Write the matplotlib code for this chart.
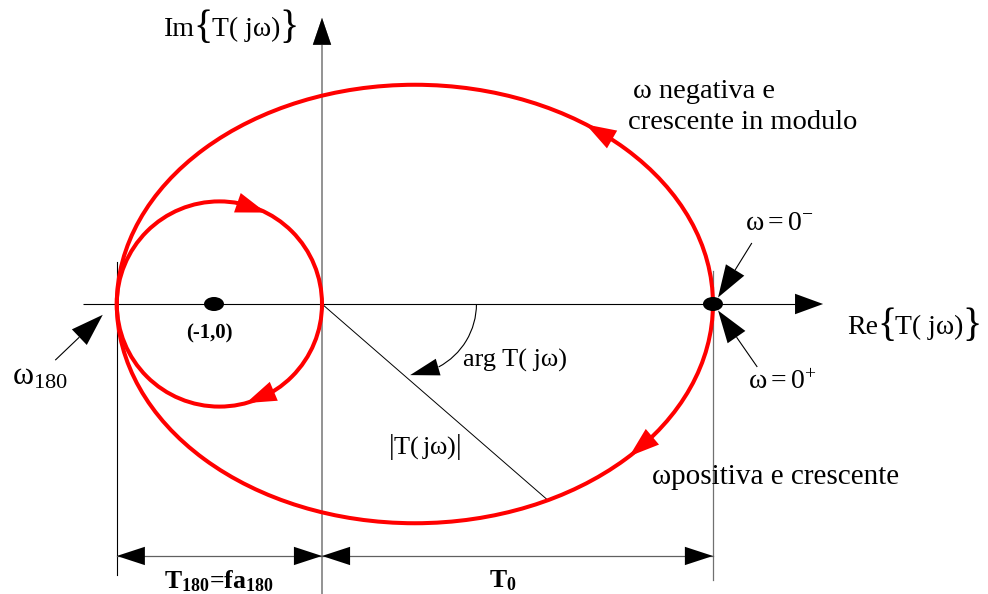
import numpy as np
import matplotlib
matplotlib.use('Agg')
import matplotlib.pyplot as plt
from matplotlib.patches import Ellipse, Circle, Polygon, Arc
from matplotlib.transforms import offset_copy

plt.rcParams['font.family'] = ['Liberation Serif', 'DejaVu Serif']
plt.rcParams['mathtext.fontset'] = 'custom'
plt.rcParams['mathtext.rm'] = 'Liberation Serif'
plt.rcParams['mathtext.it'] = 'Liberation Serif'
plt.rcParams['mathtext.bf'] = 'Liberation Serif:bold'

# Nyquist plot data (real/imag units)
T0 = 3.62          # crossing at w = 0
T180 = -1.90       # crossing at w180
crit = (-1.0, 0.0) # critical point
# small loop around -1 (circle through origin and T180)
loop_c = (T180 / 2, 0.0)
loop_r = -T180 / 2
# outer loop (ellipse from T180 to T0)
ell_c = ((T0 + T180) / 2, 0.0)
ell_a = (T0 - T180) / 2
ell_b = 2.03
# arrow tips on the curves: (angle of tip, angle of base) in degrees
loop_arrows = [(63, 79), (-75, -59)]
ell_arrows = [(55, 49), (-44, -38)]
# |T(jw)| vector drawn to this point of the outer loop
vec_t = -63.5

RED = '#ff0000'
U = 108.0  # pixels per unit


def head(ax, tip, frm, length, hw, color):
    tip = np.array(tip, float)
    d = tip - np.array(frm, float)
    d /= np.hypot(*d)
    n = np.array([-d[1], d[0]])
    base = tip - d * length
    ax.add_patch(Polygon([tip, base + n * hw, base - n * hw], closed=True,
                         fc=color, ec='none', zorder=5))
    return base


def arrow(ax, start, tip, length=0.28, hw=0.095, color='black', lw=0.8):
    base = head(ax, tip, start, length, hw, color)
    ax.plot([start[0], base[0]], [start[1], base[1]], color=color, lw=lw,
            solid_capstyle='butt')


def ell_pt(t):
    t = np.radians(t)
    return (ell_c[0] + ell_a * np.cos(t), ell_c[1] + ell_b * np.sin(t))


def loop_pt(t):
    t = np.radians(t)
    return (loop_c[0] + loop_r * np.cos(t), loop_c[1] + loop_r * np.sin(t))


def braced(ax, x, y, pre, body, fs=20, bfs=29):
    # "pre{body}" with tall braces, pieces laid out left to right
    r = fig.canvas.get_renderer()
    parts = [(pre, fs, 0), ('{', bfs, 1.5), (body, fs, 0), ('}', bfs, 1.5)]
    dx = 0.0
    for s, size, dy in parts:
        tr = offset_copy(ax.transData, fig=fig, x=dx, y=dy, units='dots')
        t = ax.text(x, y, s, fontsize=size, ha='left', va='center', transform=tr)
        dx += t.get_window_extent(r).width - 1


fig = plt.figure(figsize=(9.88, 5.94), dpi=100)
ax = fig.add_axes([0, 0, 1, 1])
ax.set_xlim(-322 / U, 666 / U)
ax.set_ylim(-290 / U, 304 / U)
ax.axis('off')

# axes
arrow(ax, (-2.21, 0), (4.64, 0), length=0.26, hw=0.095, lw=0.8)
arrow(ax, (0, -2.70), (0, 2.65), length=0.25, hw=0.085, color='#808080', lw=1.2)
head(ax, (0, 2.65), (0, 0), 0.25, 0.085, 'black')

# reference verticals at T180 and T0
ax.plot([T180, T180], [0.39, -2.51], color='black', lw=0.8)
ax.plot([T0, T0], [0.31, -2.56], color='#707070', lw=0.9)

# curves
ax.add_patch(Ellipse(ell_c, 2 * ell_a, 2 * ell_b, fill=False, ec=RED, lw=2.9, zorder=3))
ax.add_patch(Circle(loop_c, loop_r, fill=False, ec=RED, lw=2.9, zorder=3))
for tip, base in loop_arrows:
    head(ax, loop_pt(tip), loop_pt(base), 0.28, 0.095, RED)
for tip, base in ell_arrows:
    head(ax, ell_pt(tip), ell_pt(base), 0.28, 0.095, RED)

# points
ax.add_patch(Ellipse(crit, 0.185, 0.13, fc='black', ec='none', zorder=6))
ax.add_patch(Ellipse((T0, 0), 0.185, 0.13, fc='black', ec='none', zorder=6))

# |T(jw)| and arg
vx, vy = ell_pt(vec_t)
ax.plot([0, vx], [0, vy], color='black', lw=0.7)
arg_c, arg_r = 0.77, 0.66
ax.add_patch(Arc((arg_c, 0), 2 * arg_r, 2 * arg_r, theta1=-62, theta2=0,
                 color='black', lw=0.8))
tip = (arg_c + arg_r * np.cos(np.radians(-86)), arg_r * np.sin(np.radians(-86)))
frm = (arg_c + arg_r * np.cos(np.radians(-62)), arg_r * np.sin(np.radians(-62)))
head(ax, tip, frm, 0.27, 0.08, 'black')

# annotation arrows
arrow(ax, (3.98, 0.565), (3.667, 0.06), length=0.30, hw=0.10)
arrow(ax, (4.03, -0.583), (3.667, -0.06), length=0.30, hw=0.10)
arrow(ax, (-2.47, -0.52), (-2.03, -0.10), length=0.30, hw=0.10)

# dimension lines
ydim = -2.333
for a, b in [(T180, 0), (0, T0)]:
    ax.plot([a, b], [ydim, ydim], color='#606060', lw=0.9)
    head(ax, (a, ydim), (b, ydim), 0.26, 0.085, 'black')
    head(ax, (b, ydim), (a, ydim), 0.26, 0.085, 'black')

# labels
fs = 20.5
braced(ax, -1.465, 2.54, 'Im', 'T( jω)')
braced(ax, 4.86, -0.22, 'Re', 'T( jω)')
ax.text(2.88, 1.965, 'ω negativa e', fontsize=fs, ha='left', va='center')
ax.text(2.83, 1.685, 'crescente in modulo', fontsize=fs, ha='left', va='center')
ax.text(3.92, 0.75, r'$\omega = 0^{-}$', fontsize=20, ha='left', va='center')
ax.text(3.94, -0.73, r'$\omega = 0^{+}$', fontsize=20, ha='left', va='center')
ax.text(3.06, -1.60, 'ωpositiva e crescente', fontsize=21, ha='left', va='center')
ax.text(-1.04, -0.27, '(-1,0)', fontsize=15, fontweight='bold', ha='center', va='center')
ax.text(-2.87, -0.68, r'$\omega_{180}$', fontsize=23, ha='left', va='center')
ax.text(1.31, -0.52, 'arg T( jω)', fontsize=19, ha='left', va='center')
ax.text(0.61, -1.32, r'$\left|\mathrm{T(\,j}\omega\mathrm{)}\right|$', fontsize=19,
        ha='left', va='center')
ax.text(-0.96, -2.57, r'T$_\mathbf{180}$=fa$_\mathbf{180}$', fontsize=18.5,
        fontweight='bold', ha='center', va='center')
ax.text(1.67, -2.56, r'T$_\mathbf{0}$', fontsize=18.5, fontweight='bold',
        ha='center', va='center')

fig.savefig('out.png', dpi=100)
